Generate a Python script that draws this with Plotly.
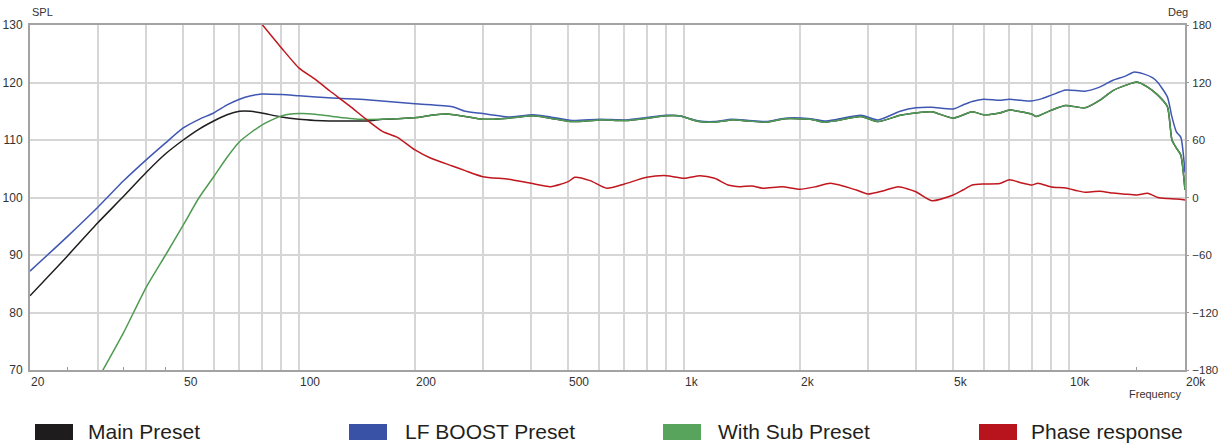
import numpy as np
import plotly.graph_objects as go

# ---------------- data ----------------
main_low_freq = [20, 25, 30, 35, 40, 45, 50, 55, 60, 65, 70, 75, 80, 90, 100, 110, 120, 135, 150, 165]
main_low_spl = [82.9, 89.8, 95.6, 100.2, 104.3, 107.6, 110.0, 111.9, 113.3, 114.4, 115.0, 115.0, 114.7, 114.0,
                113.6, 113.4, 113.3, 113.3, 113.3, 113.6]

green_freq = [30, 35, 40, 45, 50, 55, 60, 65, 70, 75, 80, 90, 100, 110, 122, 144, 164, 180, 202, 220, 246, 270,
              300, 350, 406, 450, 512, 605, 707, 800, 894, 970, 1094, 1200, 1330, 1470, 1630, 1830, 2130, 2320,
              2500, 2880, 3190, 3640, 4000, 4400, 5000, 5600, 6000, 6600, 7000, 7500, 8000, 8200, 9000,
              9800, 11000, 12000, 13000, 14000, 15000, 16000, 17000, 18000, 18500, 19000, 19500, 20000]
green_spl = [68.4, 76.5, 84.3, 90.0, 95.2, 100.0, 103.6, 107.0, 109.7, 111.3, 112.6, 114.2, 114.6, 114.5, 114.1,
             113.6, 113.6, 113.7, 113.9, 114.3, 114.5, 114.1, 113.6, 113.8, 114.2, 113.8, 113.2, 113.5, 113.4,
             113.8, 114.2, 114.2, 113.2, 113.1, 113.5, 113.3, 113.1, 113.7, 113.6, 113.1, 113.4, 114.1, 113.2,
             114.3, 114.7, 114.9, 113.8, 114.9, 114.4, 114.7, 115.2, 114.9, 114.5, 114.1, 115.2, 116.0, 115.6,
             116.9, 118.6, 119.5, 120.1, 119.2, 117.8, 115.8, 110.0, 108.6, 107.4, 101.3]

blue_freq = [20, 25, 30, 35, 40, 45, 50, 55, 60, 65, 70, 75, 80, 90, 100, 122, 150, 200, 250, 270, 300, 330,
             350, 406, 450, 512, 605, 707, 800, 894, 970, 1094, 1200, 1330, 1470, 1630, 1830, 2130, 2320, 2500,
             2880, 3190, 3640, 4000, 4400, 5000, 5300, 5600, 6000, 6600, 7000, 7500, 8000, 8500, 9000, 9800,
             11000, 12000, 13000, 14000, 14700, 15600, 16500, 17000, 18000, 18500, 19000, 19500, 20000]
blue_spl = [87.2, 93.2, 98.3, 102.9, 106.5, 109.5, 112.1, 113.6, 114.7, 116.1, 117.1, 117.7, 118.0, 117.9,
            117.7, 117.3, 117.0, 116.3, 115.8, 115.0, 114.6, 114.2, 114.0, 114.4, 114.0, 113.4, 113.6, 113.5,
            113.9, 114.3, 114.2, 113.3, 113.2, 113.6, 113.4, 113.2, 113.8, 113.7, 113.3, 113.6, 114.3, 113.5,
            115.0, 115.6, 115.7, 115.4, 116.1, 116.7, 117.1, 116.9, 117.1, 116.9, 116.8, 117.2, 117.8, 118.7,
            118.5, 119.2, 120.4, 121.1, 121.8, 121.5, 120.8, 120.0, 117.5, 114.0, 111.4, 110.5, 104.3]

phase_freq = [80, 90, 100, 110, 120, 135, 150, 165, 180, 200, 220, 250, 270, 300, 350, 400, 450, 500, 520,
              570, 630, 700, 800, 900, 1000, 1100, 1200, 1300, 1400, 1500, 1600, 1800, 2000, 2200, 2400,
              2800, 3000, 3300, 3600, 4000, 4400, 5000, 5300, 5600, 6000, 6600, 7000, 7500, 8000, 8300,
              9000, 9800, 10500, 11000, 12000, 13000, 14000, 15000, 16000, 17000, 18000, 19000, 20000]
phase_deg = [181, 156, 135, 123.5, 111.4, 95.8, 81, 68.7, 62.8, 49.6, 40.9, 32.9, 28, 21.7, 19, 14.8, 11.3,
             16.5, 21.1, 17.6, 9.6, 14.1, 21.1, 22.8, 20, 22.8, 20, 13, 11.3, 12, 9.6, 11.3, 8.6, 11.3, 14.8,
             7.8, 3.6, 7.1, 11.3, 6, -3.3, 2.6, 7.8, 13, 14.1, 14.5, 18.5, 15.4, 13, 15, 11, 10, 7, 5.5, 6.5,
             4.7, 3.5, 2.6, 4.5, 0, -1.0, -1.5, -2.5]

# main preset coincides with the "With Sub" curve above ~165 Hz
main_freq = main_low_freq + [f for f in green_freq if f > 165]
main_spl = main_low_spl + [s for f, s in zip(green_freq, green_spl) if f > 165]

series_names = ["Main Preset", "LF BOOST Preset", "With Sub Preset", "Phase response"]
series_colors = ["#1e1c1d", "#3a52a6", "#58a45c", "#b8141d"]
line_colors = ["#1e1e1e", "#3f57b3", "#4f9b52", "#c0161e"]

x_grid_vals = [20, 30, 40, 50, 60, 70, 80, 90, 100, 200, 300, 400, 500, 600, 700, 800, 900,
               1000, 2000, 3000, 4000, 5000, 6000, 7000, 8000, 9000, 10000, 20000]
x_minor_vals = [25, 35, 45, 15000]
x_label_vals = [20, 50, 100, 200, 500, 1000, 2000, 5000, 10000, 20000]
x_label_text = ["20", "50", "100", "200", "500", "1k", "2k", "5k", "10k", "20k"]
spl_ticks = [70, 80, 90, 100, 110, 120, 130]
deg_ticks = [-180, -120, -60, 0, 60, 120, 180]

# ---------------- figure ----------------
W, H = 1219, 448
L, R, T, B = 30, 1185, 25, 370
FONT = "Liberation Sans, Arial, sans-serif"
AXIS_C = "#a3a3a3"
GRID_C = "#d6d6d6"

fig = go.Figure()
fig.add_trace(go.Scatter(x=main_freq, y=main_spl, mode="lines",
                         line=dict(color=line_colors[0], width=1.5, shape="spline", smoothing=0.6),
                         name=series_names[0], showlegend=False))
fig.add_trace(go.Scatter(x=blue_freq, y=blue_spl, mode="lines",
                         line=dict(color=line_colors[1], width=1.5, shape="spline", smoothing=0.6),
                         name=series_names[1], showlegend=False))
fig.add_trace(go.Scatter(x=green_freq, y=green_spl, mode="lines",
                         line=dict(color=line_colors[2], width=1.5, shape="spline", smoothing=0.6),
                         name=series_names[2], showlegend=False))
fig.add_trace(go.Scatter(x=phase_freq, y=phase_deg, mode="lines",
                         line=dict(color=line_colors[3], width=1.5, shape="spline", smoothing=0.6),
                         name=series_names[3], showlegend=False, yaxis="y2"))


def px_x(p):
    return (p - L) / (R - L)


def px_y(p):
    return (B - p) / (B - T)


annotations = []
for v, t in zip(x_label_vals, x_label_text):
    annotations.append(dict(x=np.log10(v), y=px_y(382), xref="x", yref="paper", text=t, showarrow=False,
                            xanchor="left", yanchor="middle", xshift=-1,
                            font=dict(family=FONT, size=12, color="#333333")))
annotations += [
    dict(x=px_x(30), y=px_y(12), xref="paper", yref="paper", text="SPL", showarrow=False,
         xanchor="left", yanchor="middle", font=dict(family=FONT, size=11, color="#333333")),
    dict(x=px_x(1190), y=px_y(12), xref="paper", yref="paper", text="Deg", showarrow=False,
         xanchor="right", yanchor="middle", font=dict(family=FONT, size=11, color="#333333")),
    dict(x=px_x(1183), y=px_y(394), xref="paper", yref="paper", text="Frequency", showarrow=False,
         xanchor="right", yanchor="middle", font=dict(family=FONT, size=11, color="#333333")),
]

shapes = []
rect_x = [35, 349, 663, 979]
text_x = [88, 405, 718, 1031]
for name, col, rx, tx in zip(series_names, series_colors, rect_x, text_x):
    shapes.append(dict(type="rect", xref="paper", yref="paper", x0=px_x(rx), x1=px_x(rx + 38),
                       y0=px_y(440), y1=px_y(424), fillcolor=col, line=dict(width=0), layer="above"))
    annotations.append(dict(x=px_x(tx), y=px_y(431), xref="paper", yref="paper", text=name, showarrow=False,
                            xanchor="left", yanchor="middle", xshift=-2,
                            font=dict(family=FONT, size=21, color="#231f20")))

fig.update_layout(
    width=W, height=H,
    margin=dict(l=L, r=W - R, t=T, b=H - B, pad=0, autoexpand=False),
    paper_bgcolor="white", plot_bgcolor="white",
    showlegend=False,
    font=dict(family=FONT, size=12, color="#333333"),
    xaxis=dict(type="log", range=[np.log10(20), np.log10(20000)], tickmode="array", tickvals=x_grid_vals,
               showticklabels=False, ticks="", showgrid=True, gridcolor=GRID_C, gridwidth=1.5,
               showline=True, linecolor=AXIS_C, linewidth=2, mirror=True, zeroline=False, automargin=False,
               minor=dict(tickmode="array", tickvals=x_minor_vals, ticks="inside", ticklen=3,
                          tickcolor="#999999", tickwidth=1, showgrid=False)),
    yaxis=dict(range=[70, 130], tickmode="array", tickvals=spl_ticks, showgrid=True, gridcolor=GRID_C,
               gridwidth=1.5, showline=True, linecolor=AXIS_C, linewidth=2, mirror=True, zeroline=False,
               ticks="outside", ticklen=2, tickcolor="rgba(0,0,0,0)", ticklabelstandoff=1, automargin=False,
               tickfont=dict(family=FONT, size=12, color="#333333")),
    yaxis2=dict(range=[-180, 180], tickmode="array", tickvals=deg_ticks, overlaying="y", side="right",
                showgrid=False, showline=True, linecolor=AXIS_C, linewidth=2, zeroline=False, automargin=False,
                ticks="outside", ticklen=2, tickcolor="#999999", tickwidth=1, ticklabelstandoff=1,
                tickfont=dict(family=FONT, size=11.5, color="#333333")),
    annotations=annotations,
    shapes=shapes,
)

fig.write_html("out.html", config={"displayModeBar": False},
               post_script="document.body.style.margin='0px';")
